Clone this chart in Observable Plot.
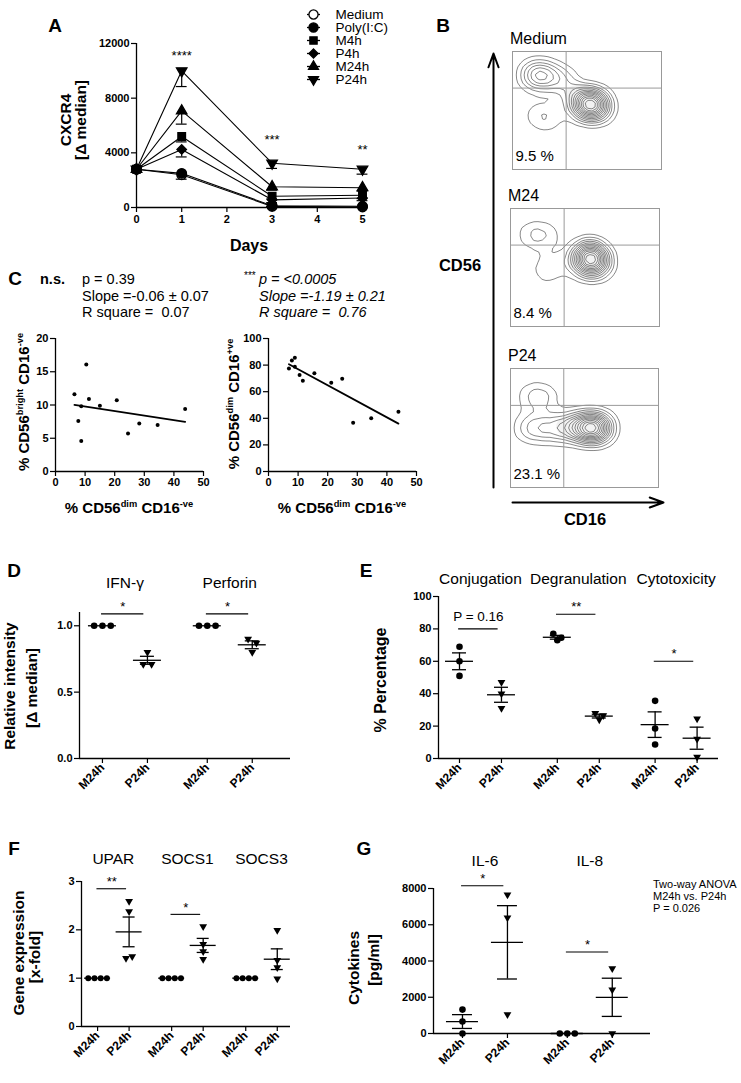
<!DOCTYPE html>
<html><head><meta charset="utf-8">
<script src="https://cdn.jsdelivr.net/npm/d3@7"></script>
<script src="https://cdn.jsdelivr.net/npm/@observablehq/plot@0.6"></script>
<style>
html,body{margin:0;padding:0;background:#fff;}
#root{position:relative;width:741px;height:1083px;overflow:hidden;font-family:"Liberation Sans",Arial,Helvetica,sans-serif;color:#000;background:#fff;}
.sp{font-size:0.62em;vertical-align:0.62em;line-height:0;}
</style></head><body><div id="root"></div><script>
// ---------------- DATA ----------------
// Panel A: CXCR4 [Δ median] over days
const days = [0, 1, 3, 5];
const seriesNames = ["Medium", "Poly(I:C)", "M4h", "P4h", "M24h", "P24h"];
const cxcr4Medium = [2800, 2400, 80, 40];
const cxcr4PolyIC = [2800, 2500, 130, 90];
const cxcr4M4h = [2800, 5200, 820, 900];
const cxcr4P4h = [2800, 4250, 560, 700];
const cxcr4M24h = [2800, 7070, 1520, 1450];
const cxcr4P24h = [2800, 10000, 3240, 2800];
const semMedium = [0, 0, 40, 30];
const semPolyIC = [0, 430, 60, 50];
const semM4h = [0, 400, 200, 250];
const semP4h = [0, 550, 200, 200];
const semM24h = [0, 970, 250, 250];
const semP24h = [0, 1150, 380, 360];
const aYTicks = [0, 4000, 8000, 12000];
const aXTicks = [0, 1, 2, 3, 4, 5];
const aStarText = ["****", "***", "**"];
const aStarDay = [1, 3, 5];
const aStarValue = [11300, 5200, 4450];

// Panel B: flow cytometry population centres [CD16 %, CD56 %, weight]
const flowNames = ["Medium", "M24", "P24"];
const flowPct = ["9.5 %", "8.4 %", "23.1 %"];
const flowMedium = [[12,80,3],[18,80,4],[24,79,3],[30,77,2],[36,76,1.2],[40,70,1],[39,62,0.8],
  [45,57,3],[50,57,5],[53,56,6],[58,55,4],[48,50,2],[55,50,2],[62,52,1.5],
  [15,46,1.2],[22,45,1.3],[30,48,0.9],[25,38,0.5]];
const flowM24 = [[12,78,1.5],[20,78,1.6],[28,77,1],
  [45,58,3],[52,59,5],[55,58,6],[60,56,3],[50,50,2],[56,47,2],[53,65,2],[63,55,1.5],
  [18,53,0.7],[26,55,0.7],[22,43,0.5],[33,50,0.9],[15,32,0.4],[28,38,0.4]];
const flowP24 = [[12,76,1.5],[20,76,1.8],[27,75,1],
  [10,50,2],[18,50,2.5],[26,50,2.5],[34,50,2.5],[40,50,2.5],
  [46,51,4],[52,50,6],[56,50,6],[60,50,4],[64,50,2]];
const flowGateX = 36, flowGateY = 69;

// Panel C: correlation scatters
const cLeftX = [6.4, 8.7, 7.7, 8.7, 10.4, 11.3, 15.0, 20.7, 24.5, 28.3, 34.5, 43.8];
const cLeftY = [11.6, 9.8, 7.6, 4.6, 16.1, 10.9, 9.9, 10.7, 5.7, 7.2, 7.0, 9.4];
const cRightX = [6.9, 7.9, 8.9, 8.9, 10.5, 11.6, 15.5, 21.2, 24.9, 28.6, 34.7, 43.9];
const cRightY = [77.4, 83.4, 85.6, 78.7, 72.5, 68.2, 73.9, 66.7, 69.7, 36.7, 40.0, 45.0];

// Panel D: relative intensity
const dGroups = ["IFN-γ", "Perforin"];
const conditions = ["M24h", "P24h"];
const dIfnM24h = [1, 1, 1];
const dIfnP24h = [0.80, 0.71, 0.71];
const dPerfM24h = [1, 1, 1];
const dPerfP24h = [0.90, 0.87, 0.80];

// Panel E: % percentage
const eGroups = ["Conjugation", "Degranulation", "Cytotoxicity"];
const eConjM24h = [69, 60, 51];
const eConjP24h = [47, 40, 31];
const eDegM24h = [77, 73, 74.5];
const eDegP24h = [28, 24, 26.5];
const eCytM24h = [35.6, 18.5, 8.6];
const eCytP24h = [24.6, 12, 1];

// Panel F: gene expression
const fGroups = ["UPAR", "SOCS1", "SOCS3"];
const fUparM24h = [1, 1, 1, 1];
const fUparP24h = [2.59, 2.38, 1.41, 1.45];
const fSocs1M24h = [1, 1, 1, 1];
const fSocs1P24h = [2.07, 1.70, 1.55, 1.39];
const fSocs3M24h = [1, 1, 1, 1];
const fSocs3P24h = [1.99, 1.37, 1.22, 0.99];

// Panel G: cytokines
const gGroups = ["IL-6", "IL-8"];
const gIl6M24h = [1320, 660, 0];
const gIl6P24h = [7650, 6390, 1050];
const gIl8M24h = [0, 0, 0];
const gIl8P24h = [3580, 2410, 0];

// significance annotations: group index, level, label
const dSig = [{g: 0, y: 1.09, text: "*"}, {g: 1, y: 1.09, text: "*"}];
const eSig = [{g: 0, y: 80, text: "P = 0.16"}, {g: 1, y: 89, text: "**"}, {g: 2, y: 60, text: "*"}];
const fSig = [{g: 0, y: 2.85, text: "**"}, {g: 1, y: 2.32, text: "*"}];
const gSig = [{g: 0, y: 8150, text: "*"}, {g: 1, y: 4500, text: "*"}];

// ---------------- HELPERS ----------------
const root = document.getElementById("root");
const FONT = '"Liberation Sans", Arial, Helvetica, sans-serif';

function mount(marks, scales, frame, m) {
  const plot = Plot.plot({
    width: frame.x1 - frame.x0 + m[3] + m[1],
    height: frame.y1 - frame.y0 + m[0] + m[2],
    marginTop: m[0], marginRight: m[1], marginBottom: m[2], marginLeft: m[3],
    style: {background: "transparent", overflow: "visible", fontFamily: FONT, color: "black"},
    ...scales,
    marks
  });
  plot.style.position = "absolute";
  plot.style.left = (frame.x0 - m[3]) + "px";
  plot.style.top = (frame.y0 - m[0]) + "px";
  plot.style.maxWidth = "none";
  root.append(plot);
  return plot;
}

function label(html, x, y, o = {}) {
  const el = document.createElement("div");
  el.innerHTML = html;
  const size = o.size || 15, weight = o.weight || "normal", rot = o.rotate || 0;
  const tx = o.anchor === "start" ? "0" : "-50%";
  el.style.cssText = `position:absolute;left:${x}px;top:${y}px;font-size:${size}px;font-weight:${weight};font-style:${o.italic ? "italic" : "normal"};white-space:nowrap;line-height:1;transform:translate(${tx},-50%) rotate(${rot}deg);`;
  root.append(el);
}

function spreadOffsets(vals, ky, spacing) {
  const n = vals.length, offs = new Array(n).fill(0), seen = new Array(n).fill(false);
  for (let i = 0; i < n; i++) {
    if (seen[i]) continue;
    const cl = [i]; seen[i] = true;
    for (let j = i + 1; j < n; j++) {
      if (!seen[j] && cl.some(c => Math.abs(vals[c] - vals[j]) * ky < 5.5)) { cl.push(j); seen[j] = true; }
    }
    cl.forEach((c, k) => offs[c] = (k - (cl.length - 1) / 2) * spacing);
  }
  return offs;
}

const axisText = {fontSize: 11, fontWeight: "bold", label: null};

function dotPanel(cfg) {
  const {frame, xDomain, yDomain, yTicks, yFormat, groups, series, gap, sig, titleY,
    meanPx = 28, capPx = 14, jitterPx = 7.5, r = 3.3, rTri = 2.9} = cfg;
  const kx = (frame.x1 - frame.x0) / (xDomain[1] - xDomain[0]);
  const ky = (frame.y1 - frame.y0) / (yDomain[1] - yDomain[0]);
  const stats = [], pts = [], ticks = [], tickLab = new Map(), titles = [], bases = [];
  groups.forEach((g, gi) => {
    const base = 1 + gi * (conditions.length + gap);
    bases.push(base);
    titles.push({x: base + (conditions.length - 1) / 2, text: g});
    conditions.forEach((c, ci) => {
      const pos = base + ci;
      const vals = series[gi * conditions.length + ci];
      ticks.push(pos); tickLab.set(pos, c);
      const mean = d3.mean(vals), sem = d3.deviation(vals) / Math.sqrt(vals.length);
      stats.push({pos, mean, sem});
      const offs = spreadOffsets(vals, ky, jitterPx);
      vals.forEach((v, i) => pts.push({x: pos + offs[i] / kx, v, cond: ci}));
    });
  });
  const errs = stats.filter(d => d.sem > 0);
  const caps = errs.flatMap(d => [{pos: d.pos, y: d.mean - d.sem}, {pos: d.pos, y: d.mean + d.sem}]);
  const sigRows = sig.map(s => ({x1: bases[s.g] - 0.02, x2: bases[s.g] + 0.92, xm: bases[s.g] + 0.45, y: s.y, text: s.text, star: /^\*+$/.test(s.text)}));
  const marks = [
    Plot.ruleX([xDomain[0]], {y1: yDomain[0], y2: yDomain[1], strokeWidth: 1.3}),
    Plot.ruleY([yDomain[0]], {x1: xDomain[0], x2: xDomain[1], strokeWidth: 1.3}),
    Plot.axisY({ticks: yTicks, tickFormat: yFormat, tickSize: 5, tickPadding: 2, strokeWidth: 1.2, ...axisText}),
    Plot.axisX({ticks, tickFormat: d => tickLab.get(d), tickRotate: -45, tickSize: 5, tickPadding: 2, strokeWidth: 1.2, ...axisText, fontSize: 12}),
    Plot.ruleY(stats, {y: "mean", x1: d => d.pos - meanPx / 2 / kx, x2: d => d.pos + meanPx / 2 / kx, strokeWidth: 1.3}),
    Plot.ruleX(errs, {x: "pos", y1: d => d.mean - d.sem, y2: d => d.mean + d.sem, strokeWidth: 1.3}),
    Plot.ruleY(caps, {y: "y", x1: d => d.pos - capPx / 2 / kx, x2: d => d.pos + capPx / 2 / kx, strokeWidth: 1.3}),
    Plot.dot(pts.filter(d => !d.cond), {x: "x", y: "v", r, fill: "black", symbol: "circle"}),
    Plot.dot(pts.filter(d => d.cond), {x: "x", y: "v", r: rTri, fill: "black", symbol: "triangle", rotate: 180}),
    Plot.text(titles, {x: "x", text: "text", frameAnchor: "top", dy: titleY - frame.y0, fontSize: 15.5}),
    Plot.ruleY(sigRows, {y: "y", x1: "x1", x2: "x2", strokeWidth: 1.1}),
    Plot.text(sigRows.filter(d => d.star), {x: "xm", y: "y", text: "text", dy: -7, fontSize: 13}),
    Plot.text(sigRows.filter(d => !d.star), {x: "xm", y: "y", text: "text", dy: -12, fontSize: 13.5})
  ];
  mount(marks, {x: {domain: xDomain}, y: {domain: yDomain}}, frame, [55, 12, 60, 50]);
}

// ---------------- PANEL A ----------------
const aValues = [cxcr4Medium, cxcr4PolyIC, cxcr4M4h, cxcr4P4h, cxcr4M24h, cxcr4P24h];
const aSems = [semMedium, semPolyIC, semM4h, semP4h, semM24h, semP24h];
const aSymbols = ["circle", "circle", "square", "diamond2", "triangle", "triangle"];
const aFills = ["white", "black", "black", "black", "black", "black"];
const aRotate = [0, 0, 0, 0, 0, 180];
const aSizes = [4.8, 4.8, 4.3, 4.3, 3.9, 3.9];
const aRows = seriesNames.flatMap((s, si) => days.map((d, di) => ({series: s, si, day: d, value: aValues[si][di], sem: aSems[si][di]})));
const aErr = aRows.filter(d => d.sem > 0);
const aStars = aStarText.map((t, i) => ({text: t, day: aStarDay[i], y: aStarValue[i]}));
mount([
  Plot.ruleX([0], {y1: 0, y2: 12000, strokeWidth: 1.3}),
  Plot.ruleY([0], {x1: 0, x2: 5, strokeWidth: 1.3}),
  Plot.axisY({ticks: aYTicks, tickSize: 5, tickPadding: 2, strokeWidth: 1.2, tickFormat: d3.format("d"), ...axisText}),
  Plot.axisX({ticks: aXTicks, tickSize: 5, tickPadding: 3, strokeWidth: 1.2, tickFormat: d3.format("d"), ...axisText}),
  Plot.line(aRows, {x: "day", y: "value", z: "series", strokeWidth: 1.1}),
  Plot.ruleX(aErr, {x: "day", y1: "value", y2: d => d.value - d.sem, strokeWidth: 1.2}),
  Plot.ruleY(aErr, {y: d => d.value - d.sem, x1: d => d.day - 0.12, x2: d => d.day + 0.12, strokeWidth: 1.2}),
  Plot.dot(aRows, {x: "day", y: "value", r: d => aSizes[d.si], symbol: d => aSymbols[d.si], rotate: d => aRotate[d.si], fill: d => aFills[d.si], stroke: "black", strokeWidth: 1.3}),
  Plot.text(aStars, {x: "day", y: "y", text: "text", fontSize: 13, dy: 3})
], {x: {domain: [0, 5]}, y: {domain: [0, 12000]}, r: {type: "identity"}}, {x0: 136, x1: 362, y0: 43, y1: 207}, [15, 20, 25, 50]);

// legend A
mount([
  Plot.ruleY(seriesNames, {y: d => d, x1: 27, x2: 40, strokeWidth: 1.3}),
  Plot.dot(seriesNames, {x: 33, y: d => d, r: (d, i) => aSizes[i] * 0.95, symbol: (d, i) => aSymbols[i], rotate: (d, i) => aRotate[i], fill: (d, i) => aFills[i], stroke: "black", strokeWidth: 1.3}),
  Plot.text(seriesNames, {x: 55, y: d => d, text: d => d, textAnchor: "start", fontSize: 13.5})
], {x: {type: "identity", axis: null}, y: {type: "point", domain: seriesNames, range: [6, 86], axis: null}, r: {type: "identity"}}, {x0: 280, x1: 400, y0: 0, y1: 92}, [0, 0, 0, 0]);

label("CXCR4", 66, 120, {size: 15.5, weight: "bold", rotate: -90});
label("[Δ median]", 81, 120, {size: 15.5, weight: "bold", rotate: -90});
label("Days", 249, 246, {size: 16, weight: "bold"});

// ---------------- PANEL B ----------------
const flowData = [flowMedium, flowM24, flowP24];
const flowFrames = [{x0: 512, x1: 661, y0: 51, y1: 169}, {x0: 510, x1: 659, y0: 208, y1: 326}, {x0: 510, x1: 658, y0: 368, y1: 487}];
flowNames.forEach((name, i) => {
  const pts = flowData[i].map(p => ({x: p[0], y: p[1], w: p[2]}));
  const f = flowFrames[i];
  mount([
    Plot.density(pts, {x: "x", y: "y", weight: "w", bandwidth: 13, thresholds: 2, fill: "#d4d4d4", fillOpacity: 0.3, stroke: "none", clip: true}),
    Plot.density(pts, {x: "x", y: "y", weight: "w", bandwidth: 8, thresholds: 14, stroke: "#555", strokeWidth: 0.7, clip: true}),
    Plot.ruleX([flowGateX], {stroke: "#999", strokeWidth: 1}),
    Plot.ruleY([flowGateY], {stroke: "#999", strokeWidth: 1}),
    Plot.frame({stroke: "#999", strokeWidth: 1}),
    Plot.text([flowPct[i]], {text: d => d, frameAnchor: "bottom-left", textAnchor: "start", dx: 3, dy: -9, fontSize: 15})
  ], {x: {domain: [0, 100], axis: null}, y: {domain: [0, 100], axis: null}}, f, [0, 0, 0, 0]);
  label(name, f.x0 - 2, f.y0 - 12, {size: 16, anchor: "start"});
});
mount([Plot.arrow([{a: 0, b: 1}], {x1: 0, y1: "a", x2: 0, y2: "b", strokeWidth: 2, headLength: 11, headAngle: 40})],
  {x: {domain: [0, 1], axis: null}, y: {domain: [0, 1], axis: null}}, {x0: 493, x1: 494, y0: 53, y1: 487}, [10, 10, 10, 10]);
mount([Plot.arrow([{a: 0, b: 1}], {x1: "a", y1: 0, x2: "b", y2: 0, strokeWidth: 2, headLength: 11, headAngle: 40})],
  {x: {domain: [0, 1], axis: null}, y: {domain: [0, 1], axis: null}}, {x0: 512, x1: 663, y0: 501, y1: 502}, [10, 10, 10, 10]);
label("CD56", 460, 265, {size: 16.5, weight: "bold"});
label("CD16", 585, 519, {size: 16.5, weight: "bold"});

// ---------------- PANEL C ----------------
const cLeft = cLeftX.map((x, i) => ({x, y: cLeftY[i]}));
const cRight = cRightX.map((x, i) => ({x, y: cRightY[i]}));
function scatter(data, yMax, yTicks, frame) {
  mount([
    Plot.ruleX([0], {y1: 0, y2: yMax, strokeWidth: 1.3}),
    Plot.ruleY([0], {x1: 0, x2: 50, strokeWidth: 1.3}),
    Plot.axisY({ticks: yTicks, tickSize: 5, tickPadding: 2, strokeWidth: 1.2, ...axisText}),
    Plot.axisX({ticks: [0, 10, 20, 30, 40, 50], tickSize: 5, tickPadding: 2, strokeWidth: 1.2, ...axisText}),
    Plot.linearRegressionY(data, {x: "x", y: "y", ci: 0, stroke: "black", strokeWidth: 1.8}),
    Plot.dot(data, {x: "x", y: "y", r: 2, fill: "black"})
  ], {x: {domain: [0, 50]}, y: {domain: [0, yMax]}}, frame, [10, 12, 30, 40]);
}
scatter(cLeft, 20, [0, 5, 10, 15, 20], {x0: 55, x1: 203, y0: 338, y1: 471});
scatter(cRight, 100, [0, 20, 40, 60, 80, 100], {x0: 268, x1: 416, y0: 338, y1: 471});
label('% CD56<span class="sp">bright</span> CD16<span class="sp">-ve</span>', 23, 402, {size: 15, weight: "bold", rotate: -90});
label('% CD56<span class="sp">dim</span> CD16<span class="sp">+ve</span>', 233, 404, {size: 15, weight: "bold", rotate: -90});
label('% CD56<span class="sp">dim</span> CD16<span class="sp">-ve</span>', 129, 507, {size: 15, weight: "bold"});
label('% CD56<span class="sp">dim</span> CD16<span class="sp">-ve</span>', 342, 507, {size: 15, weight: "bold"});
label("n.s.", 40, 279, {size: 14.5, weight: "bold", anchor: "start"});
label("p = 0.39", 82, 279, {size: 14.5, anchor: "start"});
label("Slope =-0.06 ± 0.07", 82, 296, {size: 14.5, anchor: "start"});
label("R square = &nbsp;0.07", 82, 312, {size: 14.5, anchor: "start"});
label("***", 244, 276, {size: 10, anchor: "start"});
label("p = &lt;0.0005", 259, 279, {size: 14.5, anchor: "start", italic: true});
label("Slope =-1.19 ± 0.21", 259, 296, {size: 14.5, anchor: "start", italic: true});
label("R square = &nbsp;0.76", 259, 312, {size: 14.5, anchor: "start", italic: true});

// ---------------- PANELS D–G ----------------
dotPanel({frame: {x0: 79, x1: 290, y0: 612, y1: 758}, xDomain: [0.49, 5.18], yDomain: [0, 1.1], yTicks: [0, 0.5, 1],
  yFormat: d3.format(".1f"), groups: dGroups, series: [dIfnM24h, dIfnP24h, dPerfM24h, dPerfP24h], gap: 0.33, sig: dSig, titleY: 576, meanPx: 28, jitterPx: 8.3});
dotPanel({frame: {x0: 438, x1: 718, y0: 596, y1: 758}, xDomain: [0.5, 7.17], yDomain: [0, 100], yTicks: [0, 20, 40, 60, 80, 100],
  yFormat: d3.format("d"), groups: eGroups, series: [eConjM24h, eConjP24h, eDegM24h, eDegP24h, eCytM24h, eCytP24h], gap: 0.33, sig: eSig, titleY: 572, meanPx: 28, jitterPx: 8});
dotPanel({frame: {x0: 81, x1: 290, y0: 881, y1: 1026}, xDomain: [0.49, 7.12], yDomain: [0, 3], yTicks: [0, 1, 2, 3],
  yFormat: d3.format("d"), groups: fGroups, series: [fUparM24h, fUparP24h, fSocs1M24h, fSocs1P24h, fSocs3M24h, fSocs3P24h], gap: 0.35, sig: fSig, titleY: 852, meanPx: 26, capPx: 12, jitterPx: 6.2, r: 3});
dotPanel({frame: {x0: 433, x1: 650, y0: 888, y1: 1033}, xDomain: [0.356, 5.18], yDomain: [0, 8000], yTicks: [0, 2000, 4000, 6000, 8000],
  yFormat: d3.format("d"), groups: gGroups, series: [gIl6M24h, gIl6P24h, gIl8M24h, gIl8P24h], gap: 0.33, sig: gSig, titleY: 854, meanPx: 32, capPx: 20, jitterPx: 7.5});

label("Relative intensity", 10, 686, {size: 15.5, weight: "bold", rotate: -90});
label("[Δ median]", 32, 688, {size: 15.5, weight: "bold", rotate: -90});
label("% Percentage", 381, 680, {size: 16, weight: "bold", rotate: -90});
label("Gene expression", 19, 953, {size: 15.5, weight: "bold", rotate: -90});
label("[x-fold]", 35, 957, {size: 15.5, weight: "bold", rotate: -90});
label("Cytokines", 354, 968, {size: 15.5, weight: "bold", rotate: -90});
label("[pg/ml]", 374, 960, {size: 15.5, weight: "bold", rotate: -90});
label("Two-way ANOVA", 653, 884, {size: 11, anchor: "start"});
label("M24h vs. P24h", 653, 896, {size: 11, anchor: "start"});
label("P = 0.026", 653, 908, {size: 11, anchor: "start"});

// panel letters
[["A", 55, 25], ["B", 443, 25], ["C", 15, 278], ["D", 14, 570], ["E", 366, 570], ["F", 14, 848], ["G", 364, 848]]
  .forEach(([t, x, y]) => label(t, x, y, {size: 19, weight: "bold"}));
</script></body></html>
